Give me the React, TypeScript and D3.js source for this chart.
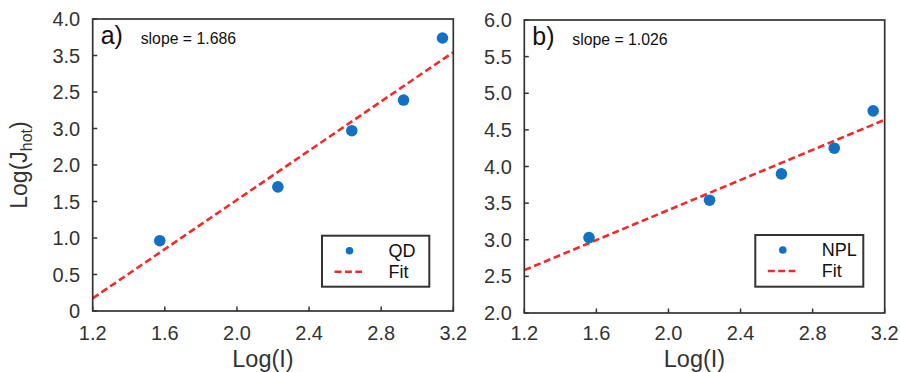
import React from "react";
import * as d3 from "d3";

const xTicks = [1.2, 1.6, 2.0, 2.4, 2.8, 3.2];

const qdX = [1.572, 2.227, 2.637, 2.924, 3.14];
const qdY = [0.963, 1.70, 2.47, 2.89, 3.74];
const qdYTickValues = [0, 0.5, 1.0, 1.5, 2.0, 2.5, 3.0, 3.5, 4.0];
const qdYTickLabels = ["0", "0.5", "1.0", "1.5", "2.0", "3.0", "2.5", "3.5", "4.0"];
const qdFit = { slope: 1.686, intercept: -1.85 };

const nplX = [1.559, 2.228, 2.627, 2.92, 3.136];
const nplY = [3.03, 3.54, 3.90, 4.25, 4.76];
const nplYTickValues = [2.0, 2.5, 3.0, 3.5, 4.0, 4.5, 5.0, 5.5, 6.0];
const nplYTickLabels = ["2.0", "2.5", "3.0", "3.5", "4.0", "4.5", "5.0", "5.5", "6.0"];
const nplFit = { slope: 1.026, intercept: 1.354 };

const BLUE = "#1271c2";
const RED = "#f42a2a";
const DARK = "#333333";
const FONT = "'Liberation Sans', Arial, Helvetica, sans-serif";

type PanelProps = {
  left: number; right: number; top: number; bottom: number;
  yDomain: [number, number];
  xs: number[]; ys: number[];
  yTickValues: number[]; yTickLabels: string[];
  fit: { slope: number; intercept: number };
  panelLabel: string; slopeText: string; legendLabel: string;
  legend: { x0: number; x1: number; y0: number; y1: number };
  titleShift: number;
};

function Panel(p: PanelProps) {
  const x = d3.scaleLinear().domain([1.2, 3.2]).range([p.left, p.right]);
  const y = d3.scaleLinear().domain(p.yDomain).range([p.bottom, p.top]);
  const fitLine = d3.line<number>()
    .x((d) => x(d))
    .y((d) => y(p.fit.slope * d + p.fit.intercept));
  const xd = x.domain();
  const L = p.legend;
  return (
    <g>
      <defs>
        <clipPath id={"clip" + p.panelLabel}>
          <rect x={p.left} y={p.top} width={p.right - p.left} height={p.bottom - p.top} />
        </clipPath>
      </defs>
      <path d={fitLine([xd[0], xd[1]]) || ""} fill="none" stroke={RED} strokeWidth={2.6}
        strokeDasharray="7,3.6" clipPath={`url(#clip${p.panelLabel})`} />
      {p.xs.map((v, i) => (
        <circle key={i} cx={x(v)} cy={y(p.ys[i])} r={5.8} fill={BLUE} />
      ))}
      <rect x={p.left} y={p.top} width={p.right - p.left} height={p.bottom - p.top}
        fill="none" stroke={DARK} strokeWidth={1.7} />
      {xTicks.map((t) => (
        <g key={"x" + t}>
          <line x1={x(t)} x2={x(t)} y1={p.bottom} y2={p.bottom - 4.5} stroke={DARK} strokeWidth={1.5} />
          <text x={x(t)} y={340} textAnchor="middle" fontSize={20} fill={DARK} fontFamily={FONT}>
            {d3.format(".1f")(t)}
          </text>
        </g>
      ))}
      {p.yTickValues.map((t, i) => (
        <g key={"y" + t}>
          <line x1={p.left} x2={p.left + 4.5} y1={y(t)} y2={y(t)} stroke={DARK} strokeWidth={1.5} />
          <text x={p.left - 12.5} y={y(t)} dy="0.35em" textAnchor="end" fontSize={20} fill={DARK} fontFamily={FONT}>
            {p.yTickLabels[i]}
          </text>
        </g>
      ))}
      <text x={(p.left + p.right) / 2 + p.titleShift} y={367} textAnchor="middle" fontSize={23.5} fill={DARK} fontFamily={FONT}>
        Log(I)
      </text>
      <text x={p.left + 8} y={p.top + 25} fontSize={25} fill="#111" fontFamily={FONT}>{p.panelLabel}</text>
      <text x={p.left + 48} y={p.top + 25} fontSize={15.8} fill="#111" fontFamily={FONT}>{p.slopeText}</text>
      <rect x={L.x0} y={L.y0} width={L.x1 - L.x0} height={L.y1 - L.y0} fill="white" stroke={DARK} strokeWidth={2} />
      <circle cx={L.x0 + 27.5} cy={L.y0 + 15} r={3.8} fill={BLUE} />
      <line x1={L.x0 + 12.5} x2={L.x0 + 40} y1={L.y0 + 36} y2={L.y0 + 36} stroke={RED} strokeWidth={2.4} strokeDasharray="7,3.4" />
      <text x={L.x0 + 66.5} y={L.y0 + 21} fontSize={18} fill="#111" fontFamily={FONT}>{p.legendLabel}</text>
      <text x={L.x0 + 66.5} y={L.y0 + 42} fontSize={18} fill="#111" fontFamily={FONT}>Fit</text>
    </g>
  );
}

export default function App() {
  return (
    <svg width={900} height={372} style={{ position: "absolute", left: 0, top: 0, background: "white" }}>
      <rect x={0} y={0} width={900} height={372} fill="white" />
      <Panel left={92.7} right={453.3} top={19} bottom={311} yDomain={[0, 4]}
        xs={qdX} ys={qdY} yTickValues={qdYTickValues} yTickLabels={qdYTickLabels}
        fit={qdFit} panelLabel="a)" slopeText="slope = 1.686" legendLabel="QD"
        legend={{ x0: 322, x1: 429.3, y0: 235.7, y1: 286.7 }} titleShift={-10} />
      <Panel left={524.3} right={884.7} top={20} bottom={313} yDomain={[2, 6]}
        xs={nplX} ys={nplY} yTickValues={nplYTickValues} yTickLabels={nplYTickLabels}
        fit={nplFit} panelLabel="b)" slopeText="slope = 1.026" legendLabel="NPL"
        legend={{ x0: 755.3, x1: 863.3, y0: 235, y1: 286.7 }} titleShift={-10} />
      <text transform="translate(26.5,165) rotate(-90)" textAnchor="middle" fontSize={23} fill={DARK} fontFamily={FONT}>
        Log(J<tspan fontSize={16} dy={5}>hot</tspan><tspan dy={-5}>)</tspan>
      </text>
    </svg>
  );
}
